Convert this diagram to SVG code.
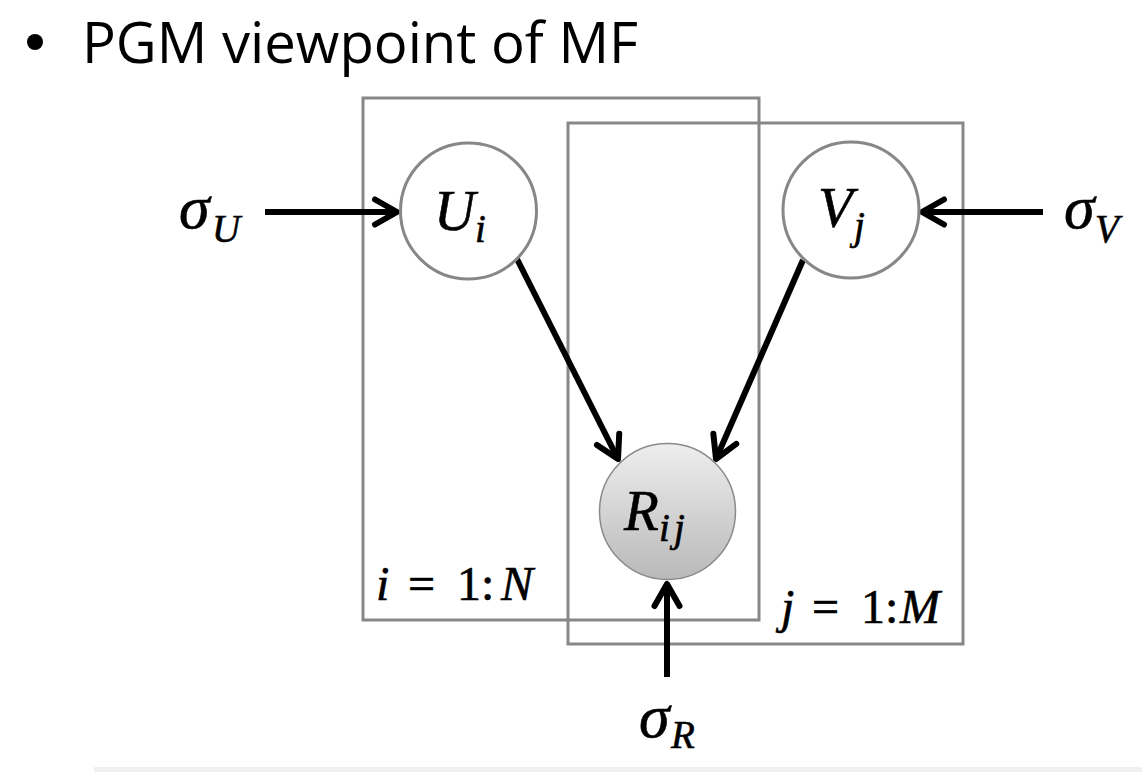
<svg xmlns="http://www.w3.org/2000/svg" width="1142" height="772" viewBox="0 0 1142 772">
  <defs>
    <style>
      .plate { fill: none; stroke: #878787; stroke-width: 3; }
      .node { fill: #ffffff; stroke: #878787; stroke-width: 3; }
      .conn { stroke: #000; stroke-width: 6; fill: none; stroke-linecap: butt; }
      .m { font-family: "Liberation Serif", "DejaVu Serif", serif; font-style: italic; fill: #000; stroke: #000; stroke-width: 0.6; }
      .u { font-family: "Liberation Serif", "DejaVu Serif", serif; font-style: normal; fill: #000; stroke: #000; stroke-width: 0.6; }
      .big { font-size: 57px; }
      .sig { font-size: 62px; }
      .sub { font-size: 39px; }
      .lbl { font-size: 48px; }
    </style>
    <marker id="chev" markerUnits="userSpaceOnUse" viewBox="-30 -16 34 32" refX="0" refY="0" markerWidth="34" markerHeight="32" orient="auto" overflow="visible">
      <path d="M -22,-12.5 L 0,0 L -22,12.5" fill="none" stroke="#000" stroke-width="6" stroke-linejoin="round" stroke-linecap="round"/>
    </marker>
    <linearGradient id="rgrad" x1="0" y1="0" x2="0" y2="1">
      <stop offset="0" stop-color="#eeeeee"/>
      <stop offset="1" stop-color="#b9b9b9"/>
    </linearGradient>
  </defs>
  <rect width="1142" height="772" fill="#ffffff"/>
  <rect x="94" y="767" width="1048" height="5" fill="#f0f0f0"/>

  <g id="title">
    <circle cx="35" cy="42" r="8" fill="#000"/>
    <text x="82" y="63" font-family="'Open Sans', 'Liberation Sans', sans-serif" font-size="56" fill="#000" textLength="556" lengthAdjust="spacingAndGlyphs">PGM viewpoint of MF</text>
  </g>

  <g id="plate-i">
    <rect class="plate" x="363" y="98" width="396" height="522"/>
    <text class="m lbl" x="376" y="600">i</text>
    <text class="u lbl" x="408" y="600">=</text>
    <text class="u lbl" x="457" y="600">1:</text>
    <text class="m lbl" x="501" y="600">N</text>
  </g>
  <g id="plate-j">
    <rect class="plate" x="568" y="123" width="395" height="521"/>
    <text class="m lbl" x="781" y="623">j</text>
    <text class="u lbl" x="812" y="623">=</text>
    <text class="u lbl" x="861" y="623">1:</text>
    <text class="m lbl" x="900" y="623">M</text>
  </g>

  <g id="connectors">
    <line class="conn" x1="265" y1="212" x2="397" y2="212" marker-end="url(#chev)"/>
    <line class="conn" x1="1043" y1="212" x2="922" y2="212" marker-end="url(#chev)"/>
    <line class="conn" x1="517" y1="259" x2="618" y2="459" marker-end="url(#chev)"/>
    <line class="conn" x1="803" y1="260" x2="716" y2="459" marker-end="url(#chev)"/>
    <line class="conn" x1="667" y1="677" x2="667" y2="584" marker-end="url(#chev)"/>
  </g>

  <g id="node-U">
    <circle class="node" cx="468.5" cy="211" r="68"/>
    <text class="m big" x="434" y="230">U</text>
    <text class="m sub" x="475" y="242">i</text>
  </g>
  <g id="node-V">
    <circle class="node" cx="851" cy="210" r="68"/>
    <text class="m big" x="818" y="227">V</text>
    <text class="m sub" x="854" y="239">j</text>
  </g>
  <g id="node-R">
    <circle cx="667.5" cy="511.5" r="68" fill="url(#rgrad)" stroke="#8a8a8a" stroke-width="1.5"/>
    <text class="m big" x="624" y="530">R</text>
    <text class="m sub" x="659" y="541">i</text>
    <text class="m sub" x="674" y="541">j</text>
  </g>

  <g id="sigma-U">
    <text class="m sig" x="179" y="228">σ</text>
    <text class="m sub" x="212" y="242">U</text>
  </g>
  <g id="sigma-V">
    <text class="m sig" x="1064" y="228">σ</text>
    <text class="m sub" x="1095" y="242">V</text>
  </g>
  <g id="sigma-R">
    <text class="m sig" x="639" y="737">σ</text>
    <text class="m sub" x="671" y="748">R</text>
  </g>
</svg>
